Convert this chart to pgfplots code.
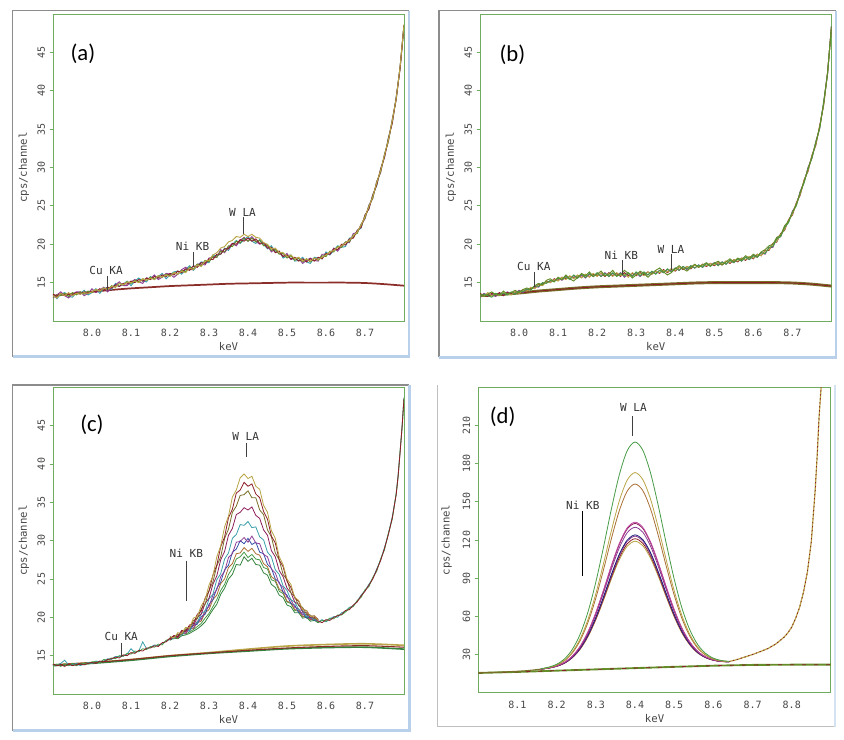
\documentclass[border=0pt]{standalone}
\usepackage{pgfplots}
\usepackage{pgfplotstable}
\pgfplotsset{compat=1.18}
\usepackage{fontspec}
\setmainfont{Carlito}
\newfontfamily\mono{DejaVu Sans Mono}

\definecolor{frame}{RGB}{112,172,96}
\definecolor{tickc}{RGB}{70,70,70}
\definecolor{bgrey}{RGB}{140,140,140}
\definecolor{bblue}{RGB}{184,208,234}
\definecolor{sdred}{RGB}{140,30,40}
\definecolor{solive}{RGB}{100,140,40}
\definecolor{syell}{RGB}{185,165,70}
\definecolor{spurp}{RGB}{140,60,150}
\definecolor{steal}{RGB}{60,160,170}
\definecolor{sblue}{RGB}{50,80,170}
\definecolor{sbrown}{RGB}{170,110,50}
\definecolor{sgreen}{RGB}{70,155,70}
\definecolor{sdgreen}{RGB}{50,130,60}
\definecolor{smag}{RGB}{190,70,160}
\definecolor{sdmag}{RGB}{140,30,90}
\definecolor{snavy}{RGB}{30,30,120}
\definecolor{bgred}{RGB}{139,45,40}
\definecolor{bgolive}{RGB}{120,110,40}

% panel (a): five spectra
\pgfplotstableread{
x a1 a2 a3 a4 a5
7.90 13.5 13.1 13.0 13.5 13.3
7.91 13.2 13.4 13.4 12.9 13.0
7.92 13.6 13.3 13.8 13.5 13.6
7.93 13.3 13.6 13.3 13.7 13.3
7.94 13.5 13.2 13.0 13.2 13.7
7.95 13.4 13.7 13.5 13.1 13.3
7.96 13.7 13.4 13.8 13.7 13.6
7.97 13.5 13.8 13.8 13.6 13.5
7.98 13.8 13.5 13.3 14.0 13.7
7.99 13.6 13.9 13.6 13.4 13.6
8.00 13.9 13.7 14.2 13.7 13.8
8.01 13.8 14.1 13.7 14.2 14.1
8.02 14.2 13.9 14.0 13.6 13.9
8.03 14.0 14.3 14.4 14.2 14.3
8.04 14.4 14.1 13.8 14.4 14.1
8.05 14.3 14.6 14.3 14.1 14.5
8.06 14.7 14.4 14.7 14.9 14.4
8.07 14.5 14.9 15.1 14.5 14.9
8.08 14.9 14.7 14.6 14.8 14.7
8.09 14.8 15.1 14.6 15.2 15.1
8.10 15.2 14.9 15.1 14.6 15.0
8.11 15.0 15.3 15.4 15.2 15.2
8.12 15.4 15.1 15.1 15.6 15.0
8.13 15.2 15.5 14.9 15.2 15.5
8.14 15.6 15.3 15.6 15.1 15.3
8.15 15.4 15.7 15.5 15.8 15.6
8.16 15.8 15.5 16.0 15.4 15.4
8.17 15.6 15.9 15.4 15.8 15.9
8.18 16.0 15.7 15.7 16.2 15.7
8.19 15.8 16.1 16.2 15.5 16.0
8.20 16.2 15.9 16.1 16.0 15.8
8.21 16.0 16.3 15.7 16.4 16.3
8.22 16.5 16.1 16.1 16.5 16.1
8.23 16.3 16.6 16.7 16.1 16.5
8.24 16.8 16.4 17.0 16.7 16.3
8.25 16.6 17.0 16.7 17.2 16.9
8.26 17.2 16.8 16.7 16.6 16.7
8.27 17.0 17.4 17.4 17.2 17.3
8.28 17.6 17.2 17.4 17.7 17.1
8.29 17.5 17.9 17.3 17.6 17.8
8.30 18.1 17.7 18.2 17.6 17.9
8.31 18.0 18.4 18.3 18.6 18.6
8.32 18.7 18.3 18.3 18.5 18.9
8.33 18.7 19.1 19.3 18.7 19.5
8.34 19.4 19.0 18.9 19.5 19.7
8.35 19.4 19.8 19.6 19.2 20.3
8.36 20.1 19.7 20.1 20.0 20.5
8.37 20.0 20.4 19.8 20.5 21.0
8.38 20.6 20.2 20.5 20.1 20.9
8.39 20.4 20.8 20.9 20.6 21.3
8.40 20.8 20.4 20.4 21.0 21.0
8.41 20.4 20.8 21.0 20.4 21.3
8.42 20.7 20.3 20.4 20.1 20.9
8.43 20.1 20.5 20.0 20.6 20.8
8.44 20.2 19.8 20.2 20.0 20.2
8.45 19.5 19.9 19.8 19.4 20.0
8.46 19.6 19.2 19.0 19.8 19.4
8.47 18.9 19.3 19.4 19.0 19.5
8.48 19.1 18.7 18.9 19.1 18.9
8.49 18.4 18.8 18.4 18.2 18.9
8.50 18.6 18.2 18.8 18.5 18.4
8.51 18.1 18.5 18.0 18.6 18.6
8.52 18.3 17.9 18.2 17.8 18.1
8.53 17.8 18.2 18.2 17.9 18.3
8.54 18.1 17.7 17.5 18.3 17.8
8.55 17.7 18.1 17.9 17.7 18.1
8.56 18.1 17.7 18.2 17.5 17.8
8.57 17.8 18.2 17.9 18.3 18.2
8.58 18.3 17.9 17.8 18.2 18.0
8.59 18.1 18.5 18.7 18.1 18.3
8.60 18.8 18.4 18.7 19.0 18.6
8.61 18.7 19.1 18.7 18.6 19.0
8.62 19.4 19.0 19.5 19.2 19.2
8.63 19.3 19.7 19.1 19.8 19.6
8.64 20.0 19.6 19.8 19.6 19.8
8.65 19.9 20.3 20.3 19.7 20.2
8.66 20.7 20.3 20.2 20.8 20.5
8.67 20.8 21.2 21.4 20.9 21.1
8.68 21.8 21.4 21.5 21.8 21.6
8.69 22.2 22.6 22.6 22.1 22.5
8.70 23.8 23.4 23.3 23.8 23.6
8.71 24.6 25.0 25.1 24.6 24.9
8.72 26.4 26.0 26.0 26.5 26.2
8.73 27.7 28.1 28.2 27.6 28.0
8.74 29.8 29.4 29.3 29.8 29.6
8.75 31.3 31.7 31.7 31.3 31.6
8.76 33.8 33.4 33.4 33.9 33.6
8.77 35.8 36.2 36.3 35.8 36.1
8.78 39.1 38.9 38.8 39.2 39.0
8.79 42.9 43.1 43.1 42.9 43.1
8.80 48.5 48.6 48.5 48.5 48.6
}\tabA

% panel (b): five spectra
\pgfplotstableread{
x b1 b2 b3 b4 b5
7.90 13.6 13.2 13.4 13.1 13.5
7.91 13.3 13.5 13.2 13.6 13.2
7.92 13.2 13.3 13.7 13.3 13.5
7.93 13.6 13.1 13.3 13.5 13.8
7.94 13.4 13.6 13.5 13.2 13.4
7.95 13.7 13.4 13.3 13.6 13.4
7.96 13.3 13.6 13.7 13.4 13.9
7.97 13.7 13.4 13.5 13.8 13.5
7.98 13.5 13.8 13.4 13.5 13.7
7.99 13.8 13.5 13.8 13.6 14.0
8.00 13.7 13.9 13.6 14.0 13.7
8.01 14.1 13.8 14.0 13.7 14.1
8.02 13.9 14.2 13.9 14.1 14.3
8.03 14.3 14.0 14.4 14.1 14.1
8.04 14.3 14.6 14.2 14.5 14.6
8.05 14.8 14.5 14.7 14.4 14.9
8.06 14.7 15.0 14.6 14.9 14.7
8.07 15.2 14.9 15.1 15.0 15.3
8.08 15.0 15.3 15.0 15.2 15.5
8.09 15.5 15.1 15.4 15.2 15.1
8.10 15.3 15.6 15.2 15.6 15.7
8.11 15.7 15.4 15.7 15.3 15.4
8.12 15.5 15.8 15.4 15.8 16.0
8.13 15.8 15.4 15.9 15.5 15.5
8.14 15.6 16.0 15.5 15.9 15.2
8.15 15.9 15.6 16.0 15.6 15.7
8.16 15.7 16.1 15.6 16.0 16.2
8.17 16.0 15.7 16.1 15.6 15.9
8.18 15.8 16.2 15.7 16.1 16.4
8.19 16.1 15.8 16.2 15.8 15.8
8.20 15.9 16.3 15.8 16.2 16.1
8.21 16.2 15.8 16.3 15.8 16.5
8.22 15.8 16.2 15.9 16.3 15.9
8.23 16.3 15.8 16.2 15.8 16.1
8.24 15.9 16.3 15.8 16.2 16.6
8.25 16.2 15.8 16.3 15.9 15.9
8.26 15.8 16.2 15.9 16.3 16.0
8.27 16.3 15.9 16.1 15.7 16.6
8.28 15.9 16.3 15.7 16.2 16.2
8.29 16.2 15.8 16.3 15.9 15.6
8.30 15.9 16.4 16.0 16.3 16.0
8.31 16.3 15.9 16.2 15.8 16.5
8.32 16.0 16.4 15.9 16.3 16.2
8.33 16.4 16.0 16.4 16.0 15.7
8.34 16.1 16.5 16.1 16.4 16.2
8.35 16.5 16.1 16.5 16.2 16.6
8.36 16.2 16.6 16.3 16.6 16.9
8.37 16.7 16.3 16.6 16.3 16.4
8.38 16.3 16.8 16.4 16.7 16.0
8.39 16.8 16.4 16.8 16.5 16.3
8.40 16.5 16.9 16.6 16.9 16.8
8.41 17.0 16.6 17.0 16.6 17.2
8.42 16.7 17.1 16.8 17.1 16.8
8.43 17.1 16.8 17.1 16.7 16.5
8.44 16.8 17.2 16.9 17.2 17.0
8.45 17.3 16.9 17.3 16.9 17.4
8.46 17.0 17.3 17.0 17.3 17.0
8.47 17.4 17.0 17.4 17.0 17.3
8.48 17.1 17.5 17.2 17.5 17.6
8.49 17.5 17.1 17.5 17.2 17.2
8.50 17.2 17.6 17.3 17.6 17.5
8.51 17.6 17.2 17.6 17.3 17.8
8.52 17.3 17.7 17.4 17.7 17.3
8.53 17.8 17.4 17.8 17.4 17.7
8.54 17.5 17.9 17.6 17.9 18.1
8.55 18.0 17.6 18.0 17.6 17.7
8.56 17.7 18.1 17.8 18.1 18.2
8.57 18.2 17.8 18.2 17.8 18.0
8.58 17.9 18.3 18.0 18.3 18.5
8.59 18.4 18.0 18.4 18.0 18.2
8.60 18.1 18.5 18.2 18.6 18.7
8.61 18.7 18.3 18.7 18.3 18.4
8.62 18.5 18.9 18.5 18.9 19.0
8.63 19.2 18.8 19.1 18.7 19.3
8.64 19.2 19.6 19.3 19.6 19.8
8.65 20.1 19.7 20.0 19.6 20.0
8.66 20.3 20.7 20.4 20.8 20.9
8.67 21.4 21.0 21.3 21.0 21.2
8.68 21.8 22.2 21.9 22.3 22.4
8.69 23.2 22.8 23.1 22.9 23.0
8.70 23.8 24.2 23.9 24.3 24.1
8.71 25.4 25.0 25.3 25.1 25.2
8.72 26.4 26.8 26.5 26.9 26.7
8.73 28.4 28.0 28.3 28.1 28.2
8.74 29.5 29.9 29.6 30.0 29.8
8.75 31.6 31.2 31.5 31.2 31.4
8.76 32.9 33.3 33.0 33.4 33.2
8.77 35.5 35.1 35.4 35.1 35.3
8.78 38.1 38.5 38.2 38.5 38.3
8.79 42.4 42.2 42.3 42.2 42.3
8.80 48.3 48.4 48.2 48.4 48.3
}\tabB

% backgrounds of (a) and (b)
\pgfplotstableread{
x ga gb
7.90 13.3 13.3
7.95 13.55 13.45
8.00 13.8 13.65
8.05 14.05 13.9
8.10 14.25 14.1
8.15 14.4 14.3
8.20 14.55 14.45
8.25 14.65 14.55
8.30 14.75 14.65
8.35 14.85 14.75
8.40 14.9 14.85
8.45 14.95 14.95
8.50 15.0 15.0
8.55 15.0 15.0
8.60 15.0 15.0
8.65 15.0 15.0
8.70 14.95 14.95
8.75 14.8 14.8
8.80 14.6 14.55
}\tabBG

% panel (c): peak region of ten spectra
\pgfplotstableread{
x c1 c2 c3 c4 c5 c6 c7 c8 c9 c10
8.20 17.5 17.2 17.4 17.1 17.5 17.2 17.4 17.1 17.2 17.0
8.21 17.3 17.6 17.3 17.6 17.2 17.6 17.2 17.6 17.5 17.3
8.22 18.0 17.5 17.8 17.4 17.8 17.4 17.8 17.3 17.3 17.2
8.23 17.9 18.3 17.8 18.2 17.7 18.1 17.7 18.0 17.9 17.6
8.24 18.7 18.2 18.5 18.1 18.4 17.9 18.3 17.9 17.8 17.7
8.25 18.6 19.0 18.5 18.8 18.3 18.6 18.2 18.5 18.1 17.9
8.26 19.9 19.2 19.6 18.9 19.2 18.6 19.0 18.5 18.4 18.2
8.27 20.1 20.4 19.8 20.0 19.3 19.5 19.1 19.3 18.8 18.5
8.28 21.5 20.8 21.1 20.4 20.5 19.7 20.1 19.5 19.2 18.9
8.29 22.3 22.5 21.7 21.8 20.8 20.9 20.4 20.6 19.9 19.4
8.30 24.2 23.4 23.5 22.5 22.4 21.4 21.7 21.0 20.5 20.2
8.31 25.4 25.5 24.6 24.3 23.0 22.9 22.3 22.3 21.4 21.0
8.32 27.9 26.8 26.7 25.4 24.9 23.6 23.8 22.9 22.3 21.7
8.33 29.3 29.2 27.9 27.5 25.7 25.3 24.6 24.4 23.5 23.0
8.34 31.8 30.5 30.3 28.6 27.6 26.0 26.2 25.0 24.3 23.8
8.35 33.2 33.0 31.5 30.7 28.4 27.8 26.8 26.5 25.6 25.0
8.36 35.7 34.1 33.7 31.6 30.3 28.3 28.5 27.0 26.4 25.6
8.37 36.6 36.2 34.5 33.4 30.8 29.8 28.9 28.3 27.6 26.9
8.38 38.2 36.6 35.9 33.7 32.1 29.9 30.0 28.4 27.9 26.8
8.39 38.7 37.6 36.0 34.3 32.0 30.4 29.6 29.1 28.5 27.9
8.40 38.1 37.1 36.5 34.0 32.5 29.8 30.3 28.6 27.8 27.3
8.41 38.4 37.4 35.6 34.4 31.7 30.6 29.5 29.0 28.2 27.7
8.42 37.1 36.1 35.6 33.3 31.8 29.7 29.8 28.3 27.6 26.9
8.43 36.7 35.6 34.0 32.9 30.5 29.6 28.5 28.1 27.5 26.8
8.44 34.6 33.8 33.4 31.4 30.1 28.2 28.3 27.0 26.5 25.8
8.45 33.7 32.8 31.4 30.7 28.5 27.9 26.9 26.6 26.3 25.5
8.46 31.3 30.6 30.5 28.7 27.9 26.3 26.4 25.3 24.9 24.3
8.47 30.3 29.7 28.4 27.9 26.2 25.8 25.0 24.9 24.7 23.9
8.48 27.9 27.5 27.5 26.1 25.6 24.4 24.6 23.7 23.4 22.9
8.49 26.9 26.6 25.6 25.3 24.1 23.9 23.3 23.3 23.1 22.6
8.50 25.0 24.7 24.9 23.8 23.5 22.6 22.9 22.1 22.0 21.6
8.51 24.3 23.9 23.2 23.2 22.3 22.3 21.8 21.9 21.8 21.4
8.52 22.6 22.5 22.7 22.0 22.0 21.3 21.6 21.0 20.9 20.6
8.53 22.2 22.1 21.5 21.7 21.0 21.1 20.6 20.9 20.8 20.6
8.54 21.0 21.0 21.3 20.7 20.9 20.3 20.6 20.1 20.1 19.9
8.55 20.9 20.9 20.4 20.6 20.1 20.4 19.9 20.2 20.1 20.0
8.56 20.1 20.1 20.3 20.0 20.1 19.8 20.0 19.7 19.7 19.5
8.57 20.2 20.2 19.8 20.0 19.7 19.8 19.6 19.8 19.8 19.6
8.58 19.6 19.7 19.8 19.6 19.7 19.5 19.7 19.5 19.4 19.3
}\tabCpk

\pgfplotstableread{
x l1 l2 l3
7.90 13.9 13.7 13.8
7.91 13.7 13.9 13.8
7.92 13.8 13.6 14.0
7.93 13.6 13.9 14.4
7.94 13.9 13.7 13.8
7.95 13.7 14.0 13.8
7.96 13.8 13.7 14.0
7.97 13.9 13.9 13.7
7.98 13.8 14.0 13.9
7.99 14.0 13.9 14.1
8.00 14.1 14.2 14.0
8.01 14.0 14.2 14.3
8.02 14.3 14.1 14.2
8.03 14.2 14.5 14.3
8.04 14.5 14.4 14.6
8.05 14.6 14.7 14.5
8.06 14.8 14.6 14.9
8.07 14.7 15.0 14.9
8.08 15.1 14.9 15.0
8.09 15.0 15.3 15.2
8.10 15.4 15.2 15.9
8.11 15.3 15.6 15.4
8.12 15.7 15.5 15.6
8.13 15.6 15.9 16.8
8.14 16.0 15.8 15.9
8.15 16.0 16.2 16.1
8.16 16.3 16.1 16.4
8.17 16.2 16.5 16.3
8.18 16.7 16.4 16.6
8.19 16.8 17.0 16.9
8.20 17.3 17.2 17.1
}\tabCl

\pgfplotstableread{
x r1 r2 r3
8.58 19.5 19.3 19.4
8.59 19.3 19.6 19.7
8.60 19.7 19.5 19.4
8.61 19.6 19.9 19.8
8.62 20.0 19.8 20.1
8.63 20.2 20.3 20.0
8.64 20.4 20.3 20.6
8.65 20.9 20.7 20.8
8.66 21.0 21.2 21.3
8.67 21.6 21.4 21.5
8.68 22.0 22.2 22.1
8.69 22.8 22.6 22.9
8.70 23.4 23.6 23.5
8.71 24.2 24.0 24.3
8.72 25.0 25.2 25.1
8.73 26.2 26.0 26.3
8.74 27.4 27.6 27.5
8.75 29.0 28.8 29.1
8.76 30.8 31.0 30.9
8.77 33.0 32.8 33.1
8.78 36.0 36.2 36.1
8.785 38.5 38.3 38.6
8.79 41.5 41.7 41.6
8.795 44.8 44.6 44.9
8.80 48.5 48.7 48.6
}\tabCr

\pgfplotstableread{
x g1 g2 g3
7.90 13.8 13.8 13.7
8.00 14.1 14.1 14.0
8.10 14.5 14.5 14.4
8.20 15.0 15.0 14.9
8.30 15.35 15.4 15.3
8.40 15.7 15.85 15.6
8.50 16.0 16.25 15.9
8.60 16.2 16.45 16.05
8.70 16.3 16.55 16.1
8.80 16.1 16.35 15.85
}\tabCbg

% panel (d)
\pgfplotstableread{
x d1 d2 d3 d4 d5 d6 d7 d8 d9 d10
8.16 18.8 18.7 18.7 18.5 18.5 18.5 18.5 18.5 18.5 18.5
8.18 20.1 19.8 19.7 19.5 19.5 19.4 19.4 19.4 19.3 19.3
8.20 22.3 21.8 21.6 21.0 21.0 20.9 20.8 20.8 20.7 20.7
8.22 26.5 25.5 25.1 23.8 23.7 23.6 23.3 23.3 23.2 23.1
8.24 34.0 32.0 31.2 28.7 28.6 28.3 27.8 27.7 27.6 27.4
8.26 45.9 42.3 40.9 36.4 36.2 35.8 34.9 34.7 34.4 34.1
8.28 63.5 57.5 55.3 47.8 47.5 46.8 45.3 45.0 44.5 44.0
8.30 86.9 77.7 74.3 62.9 62.5 61.4 59.1 58.7 57.9 57.2
8.32 114.9 102.0 97.1 81.0 80.4 78.8 75.6 75.0 73.9 72.9
8.34 144.7 127.7 121.4 100.2 99.5 97.3 93.1 92.4 91.0 89.6
8.36 171.3 150.8 143.1 117.3 116.5 113.9 108.8 107.9 106.2 104.5
8.38 190.1 167.0 158.4 129.5 128.6 125.7 119.9 118.9 117.0 115.1
8.40 197.0 173.0 164.0 134.0 133.0 130.0 124.0 123.0 121.0 119.0
8.42 190.5 167.4 158.8 129.9 129.0 126.1 120.3 119.3 117.4 115.5
8.44 172.3 151.8 144.1 118.3 117.5 114.9 109.8 108.9 107.2 105.5
8.46 146.1 129.1 122.8 101.6 100.9 98.7 94.5 93.8 92.4 91.0
8.48 116.9 104.0 99.1 83.0 82.4 80.8 77.6 77.0 75.9 74.9
8.50 89.3 80.1 76.7 65.3 64.9 63.8 61.5 61.1 60.3 59.6
8.52 66.3 60.3 58.1 50.6 50.3 49.6 48.1 47.8 47.3 46.8
8.54 49.3 45.7 44.3 39.8 39.6 39.2 38.3 38.1 37.8 37.5
8.56 37.8 35.8 35.0 32.5 32.4 32.1 31.6 31.5 31.4 31.2
8.58 30.9 29.9 29.5 28.2 28.1 28.0 27.7 27.7 27.6 27.5
8.60 27.1 26.6 26.4 25.8 25.8 25.7 25.6 25.6 25.5 25.4
8.62 25.3 25.0 24.9 24.7 24.7 24.6 24.6 24.6 24.5 24.5
8.64 24.6 24.5 24.5 24.3 24.3 24.3 24.3 24.3 24.3 24.3
}\tabDpk

\pgfplotstableread{
x e
8.00 15.6
8.02 15.8
8.04 16.0
8.06 16.2
8.08 16.5
8.10 16.8
8.12 17.2
8.14 17.8
8.16 18.5
}\tabDl

\pgfplotstableread{
x e
8.64 24.4
8.66 26.0
8.68 28.0
8.70 30.0
8.72 32.3
8.74 34.8
8.76 38.4
8.78 43.5
8.79 47.0
8.80 51.5
8.81 58.5
8.82 67.0
8.83 79.0
8.84 95.0
8.85 119.0
8.86 160.0
8.865 187.0
8.87 218.0
8.875 240.0
8.878 252.0
}\tabDr

\pgfplotstableread{
x g
8.0 15.5
8.1 16.3
8.2 17.3
8.3 18.3
8.4 19.3
8.5 20.3
8.6 21.2
8.7 21.8
8.8 22.0
8.9 22.0
}\tabDbg

\tikzset{
  ann/.style={font=\mono\fontsize{8.3}{9}\selectfont, text=black!80, inner sep=0pt},
  annline/.style={draw=black!75, line width=0.6pt},
  plab/.style={font=\fontsize{17}{17}\selectfont},
}

\pgfplotsset{
  spec/.style={
    scale only axis, anchor=north west,
    axis line style={draw=frame, line width=0.7pt},
    tick align=outside,
    major tick length=2.5pt,
    ytick style={draw=frame, line width=0.6pt},
    xtick style={draw=none},
    xtick pos=bottom, ytick pos=left,
    /pgf/number format/assume math mode=true,
    ticklabel style={font=\mono\fontsize{7.5}{8}\selectfont, text=tickc},
    yticklabel style={rotate=90, anchor=south},
    xticklabel style={/pgf/number format/.cd, fixed, fixed zerofill, precision=1},
    label style={font=\mono\fontsize{8}{9}\selectfont, text=tickc},
    xlabel={keV}, ylabel={cps/channel},
    xlabel style={at={(axis description cs:0.5,0)}, anchor=center, yshift=-19.5pt},
    ylabel style={at={(axis description cs:-0.0826,0.5)}, anchor=center},
    every axis plot/.append style={line width=0.7pt, mark=none},
  },
  spec1/.style={spec, xmin=7.9, xmax=8.8, ymin=10, ymax=50,
    xtick={8.0,8.1,...,8.7}, ytick={15,20,...,45}},
}

\begin{document}
\begin{tikzpicture}
\path[use as bounding box] (0pt,0pt) rectangle (633pt,555pt);

% ---------- (a)
\begin{axis}[spec1, at={(39.75pt,544.5pt)}, width=263.25pt, height=230.25pt]
\addplot[bgred, line width=1.3pt, smooth] table[y=ga] {\tabBG};
\addplot[steal] table[y=a4] {\tabA};
\addplot[spurp] table[y=a3] {\tabA};
\addplot[solive] table[y=a2] {\tabA};
\addplot[sdred] table[y=a1] {\tabA};
\addplot[syell] table[y=a5] {\tabA};
\node[ann] at (axis cs:8.036,16.56) {Cu KA};
\draw[annline] (axis cs:8.04,15.87) -- (axis cs:8.04,14.0);
\node[ann] at (axis cs:8.258,19.7) {Ni KB};
\draw[annline] (axis cs:8.261,19.0) -- (axis cs:8.261,17.1);
\node[ann] at (axis cs:8.386,24.2) {W LA};
\draw[annline] (axis cs:8.388,23.6) -- (axis cs:8.388,21.4);
\node[plab] at (rel axis cs:0.085,0.87) {(a)};
\end{axis}

% ---------- (b)
\begin{axis}[spec1, at={(360pt,544.5pt)}, width=263.6pt, height=230.25pt]
\addplot[bgolive, line width=2.2pt, smooth] table[y=gb] {\tabBG};
\addplot[sdred, line width=0.6pt, smooth] table[y=gb] {\tabBG};
\addplot[spurp] table[y=b4] {\tabB};
\addplot[sdred] table[y=b1] {\tabB};
\addplot[syell] table[y=b3] {\tabB};
\addplot[sgreen] table[y=b2] {\tabB};
\addplot[solive] table[y=b5] {\tabB};
\node[ann] at (axis cs:8.038,17.1) {Cu KA};
\draw[annline] (axis cs:8.039,16.4) -- (axis cs:8.039,14.4);
\node[ann] at (axis cs:8.262,18.6) {Ni KB};
\draw[annline] (axis cs:8.264,17.96) -- (axis cs:8.264,16.0);
\node[ann] at (axis cs:8.389,19.35) {W LA};
\draw[annline] (axis cs:8.391,18.74) -- (axis cs:8.391,16.7);
\node[plab] at (rel axis cs:0.092,0.866) {(b)};
\end{axis}

% ---------- (c)
\begin{axis}[spec1, at={(39.75pt,264.5pt)}, width=263.25pt, height=230pt,
  every axis plot/.append style={line width=0.6pt}]
\addplot[syell, line width=1.2pt, smooth] table[y=g2] {\tabCbg};
\addplot[sdgreen, line width=1.2pt, smooth] table[y=g3] {\tabCbg};
\addplot[bgred, line width=0.8pt, smooth] table[y=g1] {\tabCbg};
\addplot[steal] table[y=l3] {\tabCl};
\addplot[sgreen] table[y=l2] {\tabCl};
\addplot[sdred] table[y=l1] {\tabCl};
\addplot[steal] table[y=r3] {\tabCr};
\addplot[sgreen] table[y=r2] {\tabCr};
\addplot[sdred] table[y=r1] {\tabCr};
\addplot[sdgreen] table[y=c10] {\tabCpk};
\addplot[sgreen] table[y=c9] {\tabCpk};
\addplot[sbrown] table[y=c8] {\tabCpk};
\addplot[sblue] table[y=c7] {\tabCpk};
\addplot[spurp] table[y=c6] {\tabCpk};
\addplot[steal] table[y=c5] {\tabCpk};
\addplot[sdmag] table[y=c4] {\tabCpk};
\addplot[bgolive] table[y=c3] {\tabCpk};
\addplot[sdred] table[y=c2] {\tabCpk};
\addplot[syell] table[y=c1] {\tabCpk};
\node[ann] at (axis cs:8.075,17.5) {Cu KA};
\draw[annline] (axis cs:8.076,16.7) -- (axis cs:8.076,14.8);
\node[ann] at (axis cs:8.242,28.3) {Ni KB};
\draw[annline] (axis cs:8.242,27.4) -- (axis cs:8.242,22.1);
\node[ann] at (axis cs:8.394,43.6) {W LA};
\draw[annline] (axis cs:8.395,42.8) -- (axis cs:8.395,40.9);
\node[plab] at (rel axis cs:0.111,0.877) {(c)};
\end{axis}

% ---------- (d)
\begin{axis}[spec, at={(358.7pt,264.5pt)}, width=264.5pt, height=229pt,
  xmin=8.0, xmax=8.9, ymin=0, ymax=240,
  xtick={8.1,8.2,...,8.8}, ytick={30,60,...,210},
  ylabel style={at={(axis description cs:-0.0896,0.5)}},
  every axis plot/.append style={line width=0.6pt}]
\addplot[solive, line width=1.4pt] table[y=g] {\tabDbg};
\addplot[sdred, line width=0.6pt, dash pattern=on 3pt off 6pt] table[y=g] {\tabDbg};
\addplot[bgolive, line width=0.8pt] table[y=e] {\tabDl};
\addplot[syell, line width=0.9pt] table[y=e] {\tabDr};
\addplot[sdred, line width=0.6pt, dash pattern=on 1pt off 2pt] table[y=e] {\tabDr};
\addplot[syell, smooth] table[y=d10] {\tabDpk};
\addplot[sdred, smooth] table[y=d9] {\tabDpk};
\addplot[spurp, smooth] table[y=d8] {\tabDpk};
\addplot[snavy, smooth] table[y=d7] {\tabDpk};
\addplot[spurp, smooth] table[y=d6] {\tabDpk};
\addplot[sdmag, smooth] table[y=d5] {\tabDpk};
\addplot[smag, smooth] table[y=d4] {\tabDpk};
\addplot[sbrown, smooth] table[y=d3] {\tabDpk};
\addplot[syell, smooth] table[y=d2] {\tabDpk};
\addplot[sgreen, smooth] table[y=d1] {\tabDpk};
\node[ann] at (axis cs:8.267,147.3) {Ni KB};
\draw[draw=black, line width=0.9pt] (axis cs:8.267,142.9) -- (axis cs:8.267,91.6);
\node[ann] at (axis cs:8.396,224.2) {W LA};
\draw[annline, line width=0.8pt] (axis cs:8.394,217.3) -- (axis cs:8.394,201.7);
\node[plab] at (rel axis cs:0.069,0.904) {(d)};
\end{axis}

% panel frames
\draw[bgrey, line width=1pt] (9.5pt,287.5pt) -- (9.5pt,547pt) -- (306.75pt,547pt);
\draw[bblue, line width=1.8pt] (306.75pt,547pt) -- (306.75pt,287.5pt) -- (9.5pt,287.5pt);
\draw[bgrey, line width=1pt] (329.25pt,287pt) -- (329.25pt,547pt) -- (626.8pt,547pt);
\draw[bblue, line width=1.8pt] (626.8pt,547pt) -- (626.8pt,287pt) -- (329.25pt,287pt);
\draw[bgrey, line width=1pt] (9.5pt,7pt) -- (9.5pt,266.25pt) -- (307pt,266.25pt);
\draw[bblue, line width=1.8pt] (307pt,266.25pt) -- (307pt,7pt) -- (9.5pt,7pt);
\draw[black!25, line width=0.7pt] (328.3pt,266pt) -- (328.3pt,10pt) -- (626.25pt,10pt);
\draw[bblue!60, line width=1pt] (626.25pt,10pt) -- (626.25pt,266pt);
\end{tikzpicture}
\end{document}
